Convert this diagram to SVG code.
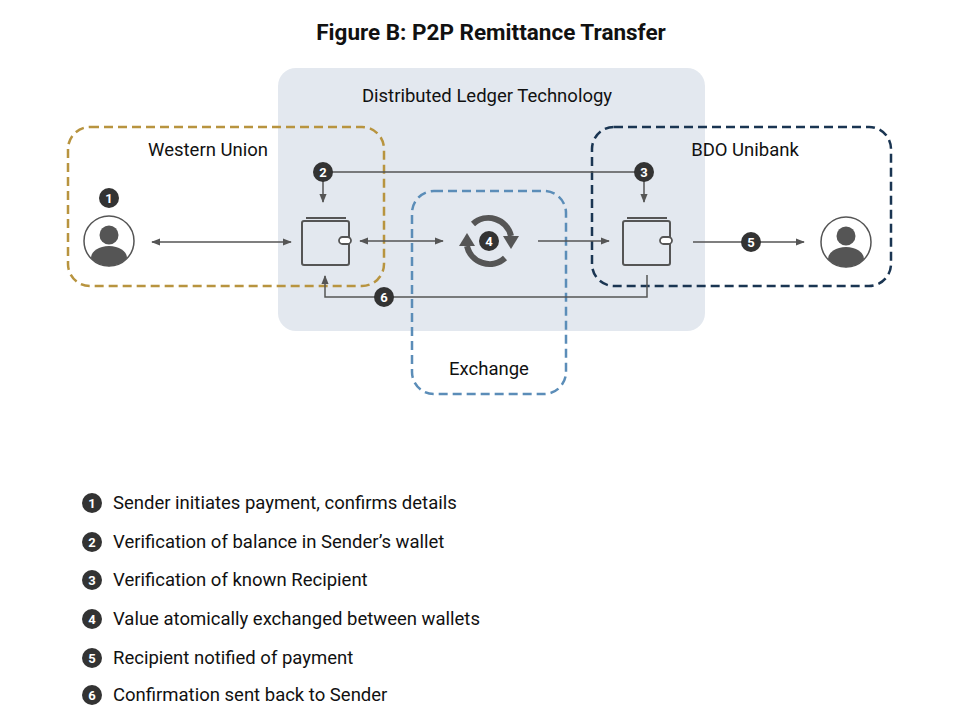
<svg xmlns="http://www.w3.org/2000/svg" width="959" height="716" viewBox="0 0 959 716">
<style>
text{font-family:Roboto,"Liberation Sans",sans-serif;fill:#111}
.lbl{font-size:18.5px}
.leg{font-size:18.5px}
.ln{stroke:#555;stroke-width:1.5;fill:none}
.bd circle{fill:#333}
.bd text{fill:#fff;font-size:13px;font-weight:bold;text-anchor:middle}
.wal{fill:none;stroke:#555;stroke-width:2}
</style>
<defs>
<marker id="ah" viewBox="0 0 10 10" refX="9" refY="5" markerWidth="6" markerHeight="6" orient="auto-start-reverse"><path d="M0,1 L10,5 L0,9 z" fill="#555"/></marker>
<g id="person"><circle r="25" fill="#fff" stroke="#555" stroke-width="1.5"/><circle cy="-6" r="9.5" fill="#555"/><path d="M-18,17 A18,12 0 0 1 18,17 A24,24 0 0 1 -18,17z" fill="#555"/></g>
<g id="wallet"><path class="wal" d="M4,0 H44"/><rect x="0" y="3" width="47" height="44" rx="2" class="wal"/><rect x="37" y="19" width="12" height="7" rx="3.5" fill="#fff" stroke="#555" stroke-width="1.8"/></g>
</defs>
<rect width="959" height="716" fill="#fff"/>
<text x="491" y="40" text-anchor="middle" font-size="22.5" font-weight="bold">Figure B: P2P Remittance Transfer</text>
<g id="dlt"><rect x="278" y="68" width="427" height="263" rx="18" fill="#e3e8ef"/><text class="lbl" x="487" y="102" text-anchor="middle">Distributed Ledger Technology</text></g>
<g id="wu"><rect x="68" y="127" width="316" height="159" rx="22" fill="none" stroke="#b8943f" stroke-width="2.5" stroke-dasharray="9,5"/><text class="lbl" x="208" y="156" text-anchor="middle">Western Union</text></g>
<g id="bdo"><rect x="592" y="127" width="299" height="159" rx="22" fill="none" stroke="#1a3552" stroke-width="2.5" stroke-dasharray="9,5"/><text class="lbl" x="745" y="156" text-anchor="middle">BDO Unibank</text></g>
<g id="exchange"><rect x="412" y="191" width="154" height="203" rx="22" fill="none" stroke="#5b8db8" stroke-width="2.5" stroke-dasharray="9,5"/><text class="lbl" x="489" y="375" text-anchor="middle">Exchange</text></g>
<g id="connectors">
<line class="ln" x1="152" y1="242" x2="291" y2="242" marker-start="url(#ah)" marker-end="url(#ah)"/>
<line class="ln" x1="332" y1="172" x2="636" y2="172"/>
<line class="ln" x1="323" y1="181" x2="323" y2="202" marker-end="url(#ah)"/>
<line class="ln" x1="644" y1="181" x2="644" y2="202" marker-end="url(#ah)"/>
<line class="ln" x1="360" y1="241" x2="443" y2="241" marker-start="url(#ah)" marker-end="url(#ah)"/>
<line class="ln" x1="538" y1="241" x2="609" y2="241" marker-end="url(#ah)"/>
<line class="ln" x1="693" y1="242" x2="804" y2="242" marker-end="url(#ah)"/>
<path class="ln" d="M647,275 V297 H325 V276" marker-end="url(#ah)"/>
</g>
<g id="sender"><use href="#person" x="109" y="241"/><g class="bd"><circle cx="109" cy="198" r="10"/><text x="109" y="202.5">1</text></g></g>
<g id="wallet-wu"><use href="#wallet" x="302" y="218"/><g class="bd"><circle cx="323" cy="172" r="10"/><text x="323" y="176.5">2</text></g></g>
<g id="wallet-bdo"><use href="#wallet" x="623" y="218"/><g class="bd"><circle cx="644" cy="172" r="10"/><text x="644" y="176.5">3</text></g></g>
<g id="cycle">
<path d="M511,236 A23,23 0 0 0 473,224" fill="none" stroke="#555" stroke-width="6"/>
<path d="M467,246 A23,23 0 0 0 505,258" fill="none" stroke="#555" stroke-width="6"/>
<path d="M503,236 L519,236 L511,249z" fill="#555"/>
<path d="M459,246 L475,246 L467,233z" fill="#555"/>
<g class="bd"><circle cx="489" cy="241" r="10"/><text x="489" y="245.5">4</text></g></g>
<g id="recipient"><use href="#person" x="846" y="242"/></g>
<g class="bd"><circle cx="751" cy="242" r="10"/><text x="751" y="246.5">5</text></g>
<g class="bd"><circle cx="384" cy="297" r="10"/><text x="384" y="301.5">6</text></g>
<g id="legend">
<g class="bd"><circle cx="92" cy="503" r="10"/><text x="92" y="507.5">1</text><circle cx="92" cy="542" r="10"/><text x="92" y="546.5">2</text><circle cx="92" cy="580" r="10"/><text x="92" y="584.5">3</text><circle cx="92" cy="619" r="10"/><text x="92" y="623.5">4</text><circle cx="92" cy="658" r="10"/><text x="92" y="662.5">5</text><circle cx="92" cy="695" r="10"/><text x="92" y="699.5">6</text></g>
<text class="leg" x="113" y="509">Sender initiates payment, confirms details</text>
<text class="leg" x="113" y="548">Verification of balance in Sender’s wallet</text>
<text class="leg" x="113" y="586">Verification of known Recipient</text>
<text class="leg" x="113" y="625">Value atomically exchanged between wallets</text>
<text class="leg" x="113" y="664">Recipient notified of payment</text>
<text class="leg" x="113" y="701">Confirmation sent back to Sender</text>
</g>
</svg>
